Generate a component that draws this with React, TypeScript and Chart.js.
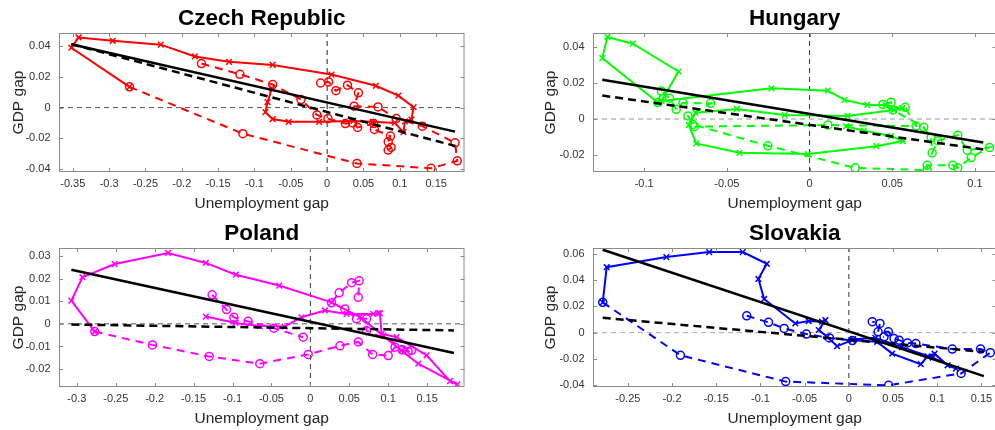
import React, { useEffect, useRef } from 'react';
import { Chart, registerables } from 'chart.js';

Chart.register(...registerables);

const FONT = "'Liberation Sans', Arial, Helvetica, sans-serif";

// ---------------- DATA ----------------
// Czech Republic
const czechTitle = 'Czech Republic';
const czechXTicks = [-0.35, -0.3, -0.25, -0.2, -0.15, -0.1, -0.05, 0, 0.05, 0.1, 0.15];
const czechYTicks = [-0.04, -0.02, 0, 0.02, 0.04];
const czechXRange = [-0.369, 0.189];
const czechYRange = [-0.042, 0.0486];
const czechSolid = [
  [-0.076, 0.0125], [-0.082, 0.0036], [-0.085, -0.003], [-0.075, -0.0075], [-0.053, -0.0093],
  [-0.011, -0.0093], [0.036, -0.0087], [0.063, -0.0093], [0.093, -0.01], [0.105, -0.016],
  [0.107, -0.009], [0.116, -0.0078], [0.119, 0.0003], [0.098, 0.0078], [0.067, 0.0142],
  [0.006, 0.0215], [-0.075, 0.0278], [-0.135, 0.0298], [-0.182, 0.0333], [-0.229, 0.041],
  [-0.295, 0.0435], [-0.342, 0.0457], [-0.352, 0.039], [-0.272, 0.0135],
];
const czechDashedA = [
  [-0.272, 0.0135], [-0.116, -0.017], [0.041, -0.0364], [0.143, -0.0396], [0.179, -0.0347],
  [0.176, -0.023], [0.131, -0.0121], [0.095, -0.0072], [0.07, 0.0004], [0.037, 0.0009],
  [0.043, 0.0096], [0.028, 0.0146], [0.012, 0.011], [0.002, 0.0167], [-0.009, 0.016],
];
const czechDashedB = [
  [-0.173, 0.0287], [-0.12, 0.0217], [-0.075, 0.015], [-0.036, 0.0052], [-0.014, -0.0048],
  [0.001, -0.0072], [0.025, -0.0104], [0.035, -0.01], [0.042, -0.013], [0.064, -0.0104],
  [0.065, -0.0143], [0.087, -0.0186], [0.084, -0.0223], [0.088, -0.026], [0.084, -0.0277],
];
const czechFitSolid = [[-0.352, 0.0413], [0.176, -0.0157]];
const czechFitDashed = [[-0.352, 0.0413], [0.176, -0.025]];

// Hungary
const hungaryTitle = 'Hungary';
const hungaryXTicks = [-0.1, -0.05, 0, 0.05, 0.1];
const hungaryYTicks = [-0.02, 0, 0.02, 0.04];
const hungaryXRange = [-0.1309, 0.113];
const hungaryYRange = [-0.0293, 0.0476];
const hungarySolid = [
  [-0.0917, 0.0091], [-0.1253, 0.0337], [-0.1222, 0.0454], [-0.1068, 0.0417], [-0.0792, 0.0263],
  [-0.0895, 0.01], [-0.023, 0.017], [0.0111, 0.0157], [0.0211, 0.0106], [0.0349, 0.0078],
  [0.046, 0.0078], [0.056, 0.006], [0.051, 0.005], [0.023, 0.0017], [-0.015, 0.0022],
  [-0.044, 0.0056], [-0.069, 0.0035], [-0.073, -0.0033], [-0.0685, -0.0135], [-0.0423, -0.0187],
  [-0.001, -0.0194], [0.0403, -0.015], [0.0564, -0.0122], [0.0493, -0.0094], [0.033, -0.0065],
  [0.022, -0.004],
];
const hungaryDashed = [
  [-0.0917, 0.0091], [-0.0896, 0.0155], [-0.0846, 0.0115], [-0.0806, 0.0054], [-0.0765, 0.009],
  [-0.0598, 0.0087], [-0.0735, 0.0017], [-0.0705, -0.003], [-0.0252, -0.0148], [0.0276, -0.027],
  [0.0711, -0.0283], [0.0711, -0.0256], [0.0866, -0.0256], [0.0896, -0.027], [0.0977, -0.0213],
  [0.1088, -0.0157], [0.0953, -0.0172], [0.0896, -0.0089], [0.0775, -0.012], [0.0741, -0.0187],
  [0.0735, -0.0102], [0.069, -0.0046], [0.0443, 0.0081], [0.0493, 0.0093], [0.0503, 0.005],
  [0.0578, 0.0065], [0.0644, -0.0039], [0.0111, -0.0033], [-0.0695, -0.0042],
];
const hungaryFitSolid = [[-0.1253, 0.0217], [0.105, -0.013]];
const hungaryFitDashed = [[-0.1253, 0.013], [0.105, -0.0168]];

// Poland
const polandTitle = 'Poland';
const polandXTicks = [-0.3, -0.25, -0.2, -0.15, -0.1, -0.05, 0, 0.05, 0.1, 0.15];
const polandYTicks = [-0.02, -0.01, 0, 0.01, 0.02, 0.03];
const polandXRange = [-0.3229, 0.198];
const polandYRange = [-0.0279, 0.0335];
const polandSolid = [
  [-0.1343, 0.0032], [-0.096, 0.0004], [-0.065, -0.001], [-0.033, -0.0012], [-0.0114, 0.0029],
  [0.0186, 0.0059], [0.0465, 0.0044], [0.0808, 0.0044], [0.0872, 0.0047], [0.0893, 0.0047],
  [0.0915, -0.0044], [0.1108, -0.0059], [0.1493, -0.0139], [0.1794, -0.0253], [0.1887, -0.0267],
  [0.1386, -0.0176], [0.117, -0.0118], [0.0936, -0.0052], [0.0636, 0.003], [0.0272, 0.0095],
  [-0.04, 0.0169], [-0.0957, 0.0217], [-0.1343, 0.0269], [-0.1828, 0.0313], [-0.2513, 0.0264],
  [-0.2928, 0.0206], [-0.307, 0.0103], [-0.277, -0.0034],
];
const polandDashedA = [
  [-0.277, -0.0034], [-0.2029, -0.0093], [-0.13, -0.0144], [-0.0649, -0.0176], [-0.0028, -0.0135],
  [0.038, -0.0097], [0.0615, -0.008], [0.08, -0.0135], [0.1, -0.014], [0.1087, -0.0103],
  [0.1184, -0.0115], [0.1257, -0.0122], [0.13, -0.0117], [0.0722, -0.003], [0.0722, 0.0022],
  [0.0594, 0.0022], [0.0443, 0.0066], [0.0272, 0.0093], [0.037, 0.0137], [0.053, 0.0182],
  [0.0627, 0.019], [0.0615, 0.0117],
];
const polandDashedB = [
  [-0.1262, 0.0128], [-0.1077, 0.0063], [-0.0983, 0.0029], [-0.08, 0.0011], [-0.047, -0.0019],
  [-0.0092, -0.0059],
];
const polandFitSolid = [[-0.307, 0.0239], [0.1844, -0.0129]];
const polandFitDashed = [[-0.307, -0.0003], [0.1844, -0.0029]];

// Slovakia
const slovakiaTitle = 'Slovakia';
const slovakiaXTicks = [-0.25, -0.2, -0.15, -0.1, -0.05, 0, 0.05, 0.1, 0.15];
const slovakiaYTicks = [-0.04, -0.02, 0, 0.02, 0.04, 0.06];
const slovakiaXRange = [-0.2894, 0.167];
const slovakiaYRange = [-0.0413, 0.0643];
const slovakiaSolid = [
  [-0.2784, 0.023], [-0.2739, 0.0497], [-0.2064, 0.0574], [-0.158, 0.0612], [-0.12, 0.0612],
  [-0.0928, 0.0523], [-0.1023, 0.0408], [-0.0958, 0.0256], [-0.0606, 0.007], [-0.0455, 0.0088],
  [-0.0303, 0.0083], [-0.0265, 0.0095], [-0.034, 0.002], [-0.0246, -0.0032], [-0.0133, -0.0103],
  [0.0038, -0.0057], [0.032, -0.007], [0.049, -0.0159], [0.0814, -0.024], [0.089, -0.018],
  [0.097, -0.016], [0.1117, -0.0248], [0.1212, -0.0273], [0.095, -0.019], [0.06, -0.011],
  [0.03, -0.004], [0.005, -0.005],
];
const slovakiaDashedA = [
  [-0.2784, 0.023], [-0.1905, -0.0172], [-0.0715, -0.0372], [0.045, -0.04], [0.127, -0.031],
  [0.16, -0.0152], [0.149, -0.0125], [0.117, -0.0125], [0.0758, -0.0083], [0.0663, -0.0078],
  [0.0568, -0.0057], [0.0511, -0.0045], [0.0447, 0.0006], [0.033, 0.0006], [0.0352, 0.007],
  [0.0265, 0.0083],
];
const slovakiaDashedB = [
  [-0.1155, 0.0128], [-0.0909, 0.0078], [-0.0731, 0.0032], [-0.0481, -0.0011], [-0.022, -0.004],
  [0.004, -0.006], [0.0398, -0.0032],
];
const slovakiaFitSolid = [[-0.2784, 0.063], [0.1527, -0.033]];
const slovakiaFitDashed = [[-0.2784, 0.0113], [0.1527, -0.0146]];

const xAxisLabel = 'Unemployment gap';
const yAxisLabel = 'GDP gap';

// ---------------- PANELS ----------------
type Pt = { x: number; y: number };
const pts = (a: number[][]): Pt[] => a.map(([x, y]) => ({ x, y }));

const panels = [
  {
    title: czechTitle, color: '#ff0000', xTicks: czechXTicks, yTicks: czechYTicks,
    xRange: czechXRange, yRange: czechYRange, solid: czechSolid, dashed: [czechDashedA, czechDashedB],
    fitSolid: czechFitSolid, fitDashed: czechFitDashed, hColor: '#555', vColor: '#222',
    geom: { x: 0, y: 0, w: 470, h: 215, plotLeft: 59, plotRight: 465, plotTop: 33, plotBottom: 172 },
  },
  {
    title: hungaryTitle, color: '#00ff00', xTicks: hungaryXTicks, yTicks: hungaryYTicks,
    xRange: hungaryXRange, yRange: hungaryYRange, solid: hungarySolid, dashed: [hungaryDashed],
    fitSolid: hungaryFitSolid, fitDashed: hungaryFitDashed, hColor: '#999', vColor: '#333',
    geom: { x: 532, y: 0, w: 470, h: 215, plotLeft: 593, plotRight: 997, plotTop: 33, plotBottom: 172 },
  },
  {
    title: polandTitle, color: '#ff00ff', xTicks: polandXTicks, yTicks: polandYTicks,
    xRange: polandXRange, yRange: polandYRange, solid: polandSolid, dashed: [polandDashedA, polandDashedB],
    fitSolid: polandFitSolid, fitDashed: polandFitDashed, hColor: '#555', vColor: '#333',
    geom: { x: 0, y: 215, w: 470, h: 215, plotLeft: 59, plotRight: 465, plotTop: 248, plotBottom: 387 },
  },
  {
    title: slovakiaTitle, color: '#0000ff', xTicks: slovakiaXTicks, yTicks: slovakiaYTicks,
    xRange: slovakiaXRange, yRange: slovakiaYRange, solid: slovakiaSolid, dashed: [slovakiaDashedA, slovakiaDashedB],
    fitSolid: slovakiaFitSolid, fitDashed: slovakiaFitDashed, hColor: '#aaa', vColor: '#333',
    geom: { x: 532, y: 215, w: 470, h: 215, plotLeft: 593, plotRight: 997, plotTop: 248, plotBottom: 387 },
  },
];

function fmtTick(v: number): string {
  const r = Math.round(v * 1000) / 1000;
  return r === 0 ? '0' : String(r);
}

const boxPlugin = {
  id: 'matlabBox',
  afterDatasetsDraw(chart: any) {
    const { ctx, chartArea: a, scales } = chart;
    const xs = scales.x;
    const ys = scales.y;
    ctx.save();
    ctx.strokeStyle = '#8a8a8a';
    ctx.lineWidth = 1;
    ctx.setLineDash([]);
    ctx.strokeRect(a.left + 0.5, a.top + 0.5, a.right - a.left - 1, a.bottom - a.top - 1);
    const L = 4;
    ctx.beginPath();
    for (const t of xs.ticks) {
      const px = Math.round(xs.getPixelForValue(t.value)) + 0.5;
      ctx.moveTo(px, a.bottom);
      ctx.lineTo(px, a.bottom - L);
      ctx.moveTo(px, a.top);
      ctx.lineTo(px, a.top + L);
    }
    for (const t of ys.ticks) {
      const py = Math.round(ys.getPixelForValue(t.value)) + 0.5;
      ctx.moveTo(a.left, py);
      ctx.lineTo(a.left + L, py);
      ctx.moveTo(a.right, py);
      ctx.lineTo(a.right - L, py);
    }
    ctx.stroke();
    ctx.restore();
  },
};

function makeConfig(p: any): any {
  const g = p.geom;
  const titleSize = 22.5;
  const titleLH = titleSize * 1.2;
  const titleTop = 5;
  const titleBottom = g.plotTop - g.y - titleLH - titleTop;
  const yAxisW = g.plotLeft - g.x;
  const xAxisH = g.y + g.h - g.plotBottom;
  const padRight = g.x + g.w - g.plotRight;

  const datasets: any[] = [];
  datasets.push({
    data: pts(p.fitSolid), showLine: true, borderColor: '#000', borderWidth: 2.5,
    pointRadius: 0, order: 0,
  });
  datasets.push({
    data: pts(p.fitDashed), showLine: true, borderColor: '#000', borderWidth: 2.5,
    borderDash: [8, 5], pointRadius: 0, order: 0,
  });
  for (const seg of p.dashed) {
    datasets.push({
      data: pts(seg), showLine: true, borderColor: p.color, borderWidth: 2, borderDash: [8, 6],
      pointStyle: 'circle', pointRadius: 4, pointBorderWidth: 1.5, pointBorderColor: p.color,
      pointBackgroundColor: 'rgba(0,0,0,0)', order: 1,
    });
  }
  datasets.push({
    data: pts(p.solid), showLine: true, borderColor: p.color, borderWidth: 2,
    pointStyle: 'crossRot', pointRadius: 4, pointBorderWidth: 1.5, pointBorderColor: p.color,
    pointBackgroundColor: p.color, order: 2,
  });
  datasets.push({
    data: [{ x: p.xRange[0], y: 0 }, { x: p.xRange[1], y: 0 }], showLine: true,
    borderColor: p.hColor, borderWidth: 1, borderDash: [5, 4], pointRadius: 0, order: 3,
  });
  datasets.push({
    data: [{ x: 0, y: p.yRange[0] }, { x: 0, y: p.yRange[1] }], showLine: true,
    borderColor: p.vColor, borderWidth: 1, borderDash: [5, 4], pointRadius: 0, order: 3,
  });

  const tickFont = { family: FONT, size: 11 };
  const labelFont = { family: FONT, size: 15.5, lineHeight: 1.2 };

  return {
    type: 'scatter',
    data: { datasets },
    options: {
      responsive: false,
      animation: false,
      events: [],
      layout: { padding: { left: 0, right: padRight, top: 0, bottom: 0 } },
      plugins: {
        legend: { display: false },
        tooltip: { enabled: false },
        title: {
          display: true, text: p.title, fullSize: false, color: '#000',
          font: { family: FONT, size: titleSize, weight: 'bold', lineHeight: 1.2 },
          padding: { top: titleTop, bottom: titleBottom },
        },
      },
      scales: {
        x: {
          type: 'linear', position: 'bottom', min: p.xRange[0], max: p.xRange[1],
          grid: { display: false, drawTicks: false, tickLength: 0 }, border: { display: false },
          ticks: {
            autoSkip: false, maxRotation: 0, padding: 5.5, color: '#333', font: tickFont,
            callback: (v: any) => fmtTick(Number(v)),
          },
          afterBuildTicks: (s: any) => { s.ticks = p.xTicks.map((v: number) => ({ value: v })); },
          afterFit: (s: any) => { s.height = xAxisH; },
          title: {
            display: true, text: xAxisLabel, color: '#262626', font: labelFont,
            padding: { top: 0, bottom: 1.7 },
          },
        },
        y: {
          type: 'linear', position: 'left', min: p.yRange[0], max: p.yRange[1],
          grid: { display: false, drawTicks: false, tickLength: 0 }, border: { display: false },
          ticks: {
            autoSkip: false, padding: 8.5, color: '#333', font: tickFont,
            callback: (v: any) => fmtTick(Number(v)),
          },
          afterBuildTicks: (s: any) => { s.ticks = p.yTicks.map((v: number) => ({ value: v })); },
          afterFit: (s: any) => { s.width = yAxisW; },
          title: {
            display: true, text: yAxisLabel, color: '#262626', font: labelFont,
            padding: { top: 9, bottom: 0 },
          },
        },
      },
    },
    plugins: [boxPlugin],
  };
}

function PanelChart({ panel }: { panel: any }) {
  const ref = useRef<HTMLCanvasElement>(null);
  useEffect(() => {
    const chart = new Chart(ref.current as HTMLCanvasElement, makeConfig(panel));
    return () => chart.destroy();
  }, [panel]);
  const g = panel.geom;
  return (
    <canvas
      ref={ref}
      width={g.w}
      height={g.h}
      style={{ position: 'absolute', left: g.x, top: g.y, width: g.w, height: g.h }}
    />
  );
}

export default function App() {
  return (
    <div
      style={{
        position: 'fixed', left: 0, top: 0, width: 995, height: 430,
        overflow: 'hidden', background: '#fff',
      }}
    >
      {panels.map((p) => (
        <PanelChart key={p.title} panel={p} />
      ))}
    </div>
  );
}
